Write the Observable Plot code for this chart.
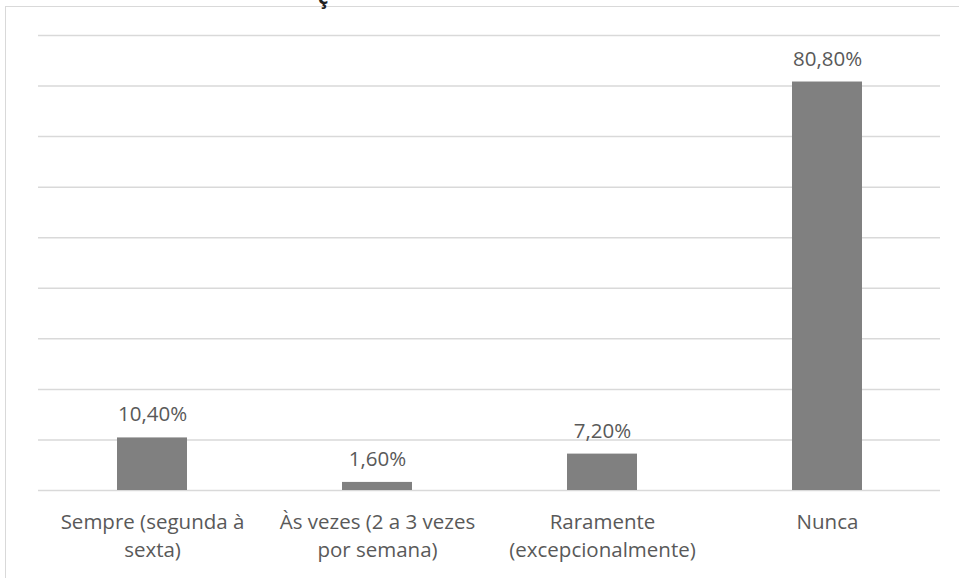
<!DOCTYPE html>
<html>
<head>
<meta charset="utf-8">
<script src="https://cdn.jsdelivr.net/npm/d3@7"></script>
<script src="https://cdn.jsdelivr.net/npm/@observablehq/plot@0.6"></script>
<style>
  html, body { margin: 0; padding: 0; background: #fff; overflow: hidden; }
  #wrap { position: relative; width: 959px; height: 578px; overflow: hidden; }
  #frame { position: absolute; left: 5px; top: 6px; width: 960px; height: 600px;
           border-left: 1px solid #d9d9d9; border-top: 1px solid #d9d9d9; }
  #title { position: absolute; left: 318px; top: -17px; font-family: "Open Sans", sans-serif;
           font-weight: bold; font-size: 20px; color: #222; }
  #chart { position: absolute; left: 0; top: 0; }
</style>
</head>
<body>
<div id="wrap">
  <div id="frame"></div>
  <div id="title">ç</div>
  <div id="chart"></div>
</div>
<script>
const categories = [
  "Sempre (segunda à\nsexta)",
  "Às vezes (2 a 3 vezes\npor semana)",
  "Raramente\n(excepcionalmente)",
  "Nunca"
];
const values = [10.4, 1.6, 7.2, 80.8];
const valueLabels = ["10,40%", "1,60%", "7,20%", "80,80%"];
const gridTicks = [0, 10, 20, 30, 40, 50, 60, 70, 80, 90];

const data = categories.map((c, i) => ({category: c, value: values[i], label: valueLabels[i]}));

const chart = Plot.plot({
  width: 959,
  height: 578,
  marginLeft: 38,
  marginRight: 19,
  marginTop: 35,
  marginBottom: 88,
  style: {fontFamily: "'Open Sans', sans-serif", fontSize: "20px", color: "#595959", background: "transparent"},
  x: {domain: categories, paddingInner: 0.69, paddingOuter: 0.345, label: null},
  y: {domain: [0, 90], label: null},
  marks: [
    Plot.ruleY(gridTicks, {stroke: "#d9d9d9", strokeWidth: 1.5}),
    Plot.barY(data, {x: "category", y: "value", fill: "#808080"}),
    Plot.text(data, {x: "category", y: "value", text: "label", dy: -23, fill: "#595959", fontSize: 20.5}),
    Plot.axisX({tickSize: 0, tickPadding: 19, lineHeight: 1.35, fill: "#595959", fontSize: 20.5}),
    Plot.axisY({ticks: [], label: null})
  ]
});
document.getElementById("chart").appendChild(chart);
</script>
</body>
</html>
